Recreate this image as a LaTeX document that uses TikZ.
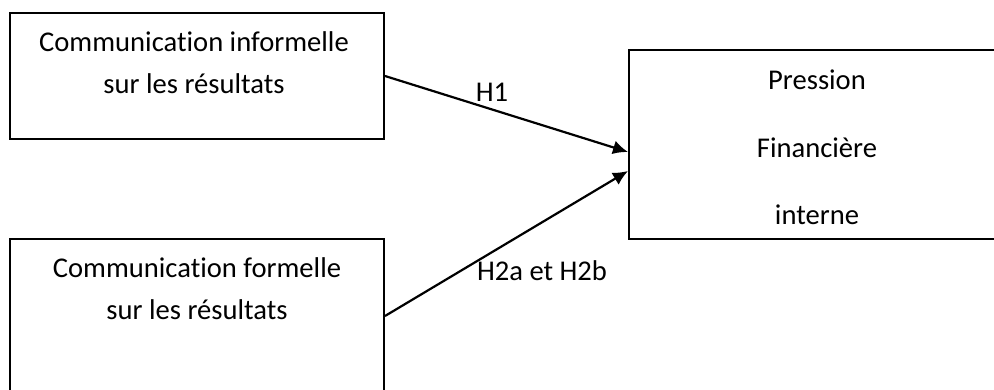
\documentclass[tikz,border=0pt]{standalone}
\usepackage{fontspec}
\setmainfont{Carlito}[Ligatures=NoCommon]
\usetikzlibrary{arrows.meta}
\def\reservedspace{\useasboundingbox (0,0) rectangle (994,390);}

\begin{document}
\begin{tikzpicture}[x=0.5pt, y=-0.5pt,
    varbox/.style={draw, line width=1pt, inner sep=0pt},
    vartext/.style={align=center, inner sep=0pt, font=\fontsize{14.3}{21}\selectfont},
    hyplabel/.style={inner sep=0pt, font=\fontsize{14.3}{17}\selectfont},
    hyparrow/.style={line width=1.1pt, -{Latex[length=7.5pt,width=7pt]}}]
            \reservedspace
            % the three variables
            \node[varbox, minimum width=187pt, minimum height=63pt] (cib) at (197,76) {};
            \node[varbox, minimum width=187pt, minimum height=77pt] (cfb) at (197,316) {};
            \node[varbox, minimum width=188pt, minimum height=94.5pt] (pfi) at (817,144.5) {};
            % texts in the boxes
            \node[vartext] (cibtext) at (194,63) {Communication informelle\\sur les résultats};
            \node[vartext] (cfbtext) at (197,289) {Communication formelle\\sur les résultats};
            \node[vartext, font=\fontsize{14.3}{33.75}\selectfont] (pfitext) at (817,147.5) {Pression\\Financière\\interne};
            % hypotheses
            \draw[hyparrow] (cib.east) -- ([yshift=-3.75pt]pfi.west);
            \draw[hyparrow] (cfb.east) -- ([yshift=-13.25pt]pfi.west);
            \node[hyplabel] (h1) at (492,92) {H1};
            \node[hyplabel] (h2) at (542,271) {H2a et H2b};
\end{tikzpicture}
\end{document}
